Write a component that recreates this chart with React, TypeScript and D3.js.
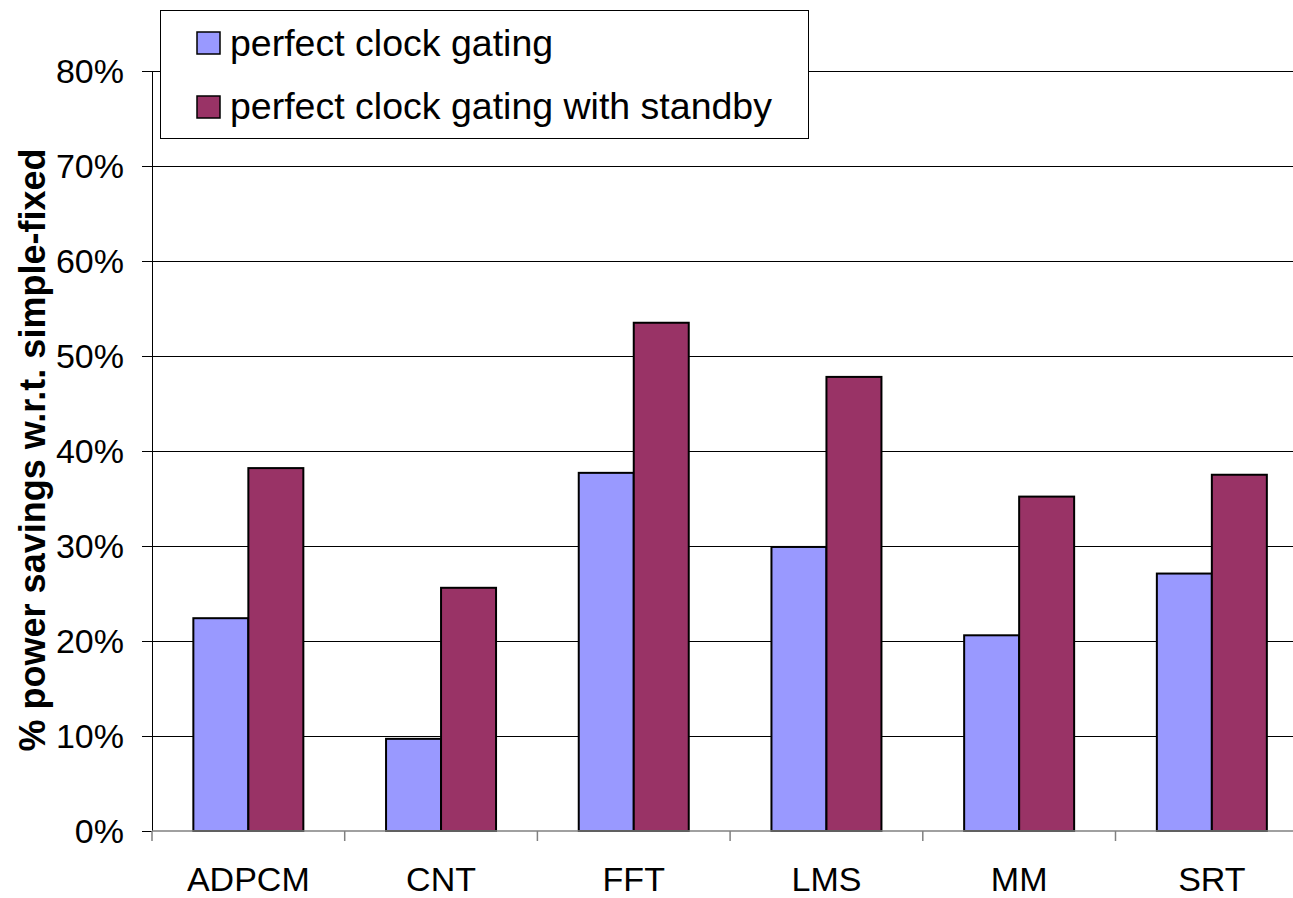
import React from "react";
import * as d3 from "d3";

const categories = ["ADPCM", "CNT", "FFT", "LMS", "MM", "SRT"];
const seriesNames = ["perfect clock gating", "perfect clock gating with standby"];
const perfectGating = [22.4, 9.7, 37.7, 29.9, 20.6, 27.1];
const withStandby = [38.2, 25.6, 53.5, 47.8, 35.2, 37.5];
const yTicks = [0, 10, 20, 30, 40, 50, 60, 70, 80];
const colors = ["#9999FF", "#993366"];

const W = 1293;
const H = 898;
const FONT = "'Liberation Sans', Arial, sans-serif";

export default function App() {
  const x0 = 152;
  const step = 192.7;
  const x = d3
    .scaleBand<string>()
    .domain(categories)
    .range([x0, x0 + step * categories.length])
    .paddingInner(0.4292)
    .paddingOuter(0.2146);
  const x1 = d3.scaleBand<number>().domain([0, 1]).range([0, x.bandwidth()]);
  const y = d3.scaleLinear().domain([0, 80]).range([831, 71]);
  const series = [perfectGating, withStandby];
  const xEnd = x0 + step * categories.length;

  return (
    <svg
      width={W}
      height={H}
      style={{ position: "absolute", left: 0, top: 0, background: "#fff" }}
      fontFamily={FONT}
    >
      {/* gridlines */}
      {yTicks.slice(1).map((t) => (
        <line key={t} x1={x0} x2={xEnd} y1={y(t)} y2={y(t)} stroke="#000" strokeWidth={1} shapeRendering="crispEdges" />
      ))}
      {/* y axis */}
      <line x1={x0} x2={x0} y1={y(80)} y2={y(0)} stroke="#000" strokeWidth={1} shapeRendering="crispEdges" />
      {yTicks.map((t) => (
        <g key={t}>
          <line x1={x0 - 10} x2={x0} y1={y(t)} y2={y(t)} stroke="#000" strokeWidth={1} shapeRendering="crispEdges" />
          <text x={124} y={y(t)} dy="0.35em" textAnchor="end" fontSize={34} fill="#000">
            {t}%
          </text>
        </g>
      ))}
      {/* bars */}
      {categories.map((c, i) => (
        <g key={c} transform={`translate(${x(c)},0)`}>
          {series.map((s, j) => (
            <rect
              key={j}
              x={x1(j)}
              y={y(s[i])}
              width={x1.bandwidth()}
              height={y(0) - y(s[i])}
              fill={colors[j]}
              stroke="#000"
              strokeWidth={2}
            />
          ))}
        </g>
      ))}
      {/* x axis */}
      <line x1={x0} x2={xEnd} y1={y(0)} y2={y(0)} stroke="#808080" strokeWidth={1.5} />
      {d3.range(categories.length + 1).map((k) => (
        <line key={k} x1={x0 + k * step} x2={x0 + k * step} y1={y(0)} y2={y(0) + 10} stroke="#808080" strokeWidth={1.5} />
      ))}
      {categories.map((c) => (
        <text key={c} x={(x(c) as number) + x.bandwidth() / 2} y={891} textAnchor="middle" fontSize={34} fill="#000">
          {c}
        </text>
      ))}
      {/* y title */}
      <text
        transform={`translate(45,450) rotate(-90)`}
        textAnchor="middle"
        fontSize={36}
        fontWeight="bold"
        fill="#000"
      >
        % power savings w.r.t. simple-fixed
      </text>
      {/* legend */}
      <rect x={160} y={10} width={648} height={128} fill="#fff" stroke="#000" strokeWidth={1} shapeRendering="crispEdges" />
      {seriesNames.map((n, j) => (
        <g key={n}>
          <rect x={197} y={32 + j * 64} width={23} height={22} fill={colors[j]} stroke="#000" strokeWidth={1.5} />
          <text x={230} y={56 + j * 63} fontSize={37.5} fill="#000">
            {n}
          </text>
        </g>
      ))}
    </svg>
  );
}
